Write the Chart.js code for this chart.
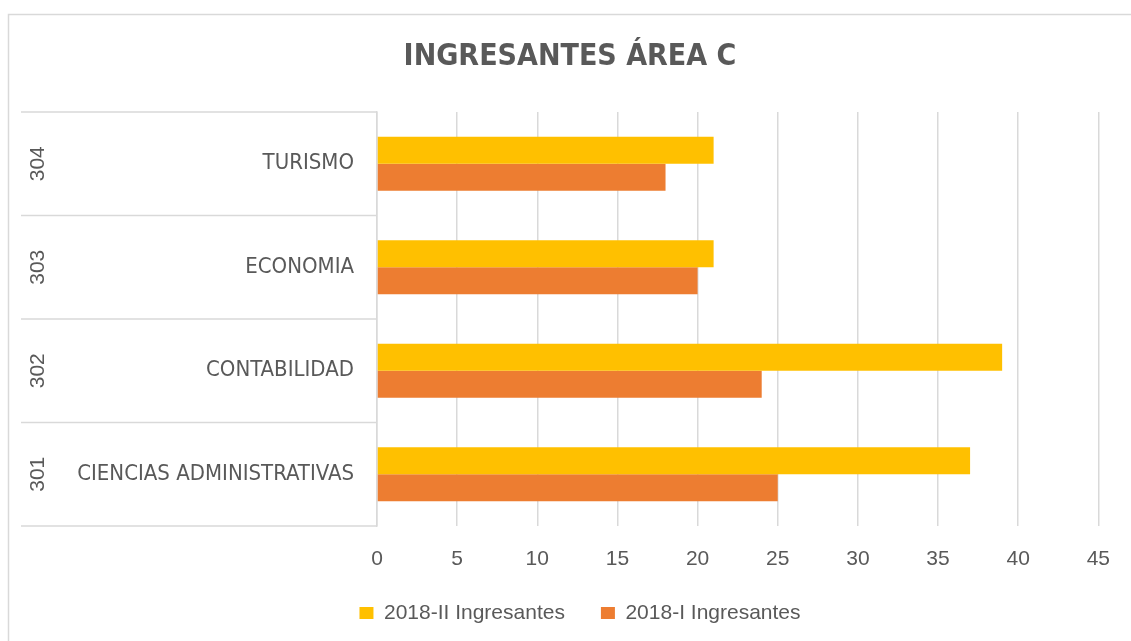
<!DOCTYPE html>
<html>
<head>
<meta charset="utf-8">
<script src="https://cdn.jsdelivr.net/npm/chart.js@4"></script>
<style>
  html, body { margin: 0; padding: 0; background: #ffffff; }
  #wrap { width: 1131px; height: 641px; position: relative; }
</style>
</head>
<body>
<div id="wrap"><canvas id="ingresantesChart"></canvas></div>
<script>
// data, top to bottom as shown in the chart
const codes = ['304', '303', '302', '301'];
const careers = ['TURISMO', 'ECONOMIA', 'CONTABILIDAD', 'CIENCIAS ADMINISTRATIVAS'];
const ingresantes2018II = [21, 21, 39, 37];
const ingresantes2018I = [18, 20, 24, 25];
const xMin = 0;
const xMax = 45;
const xStep = 5;

const narrowFont = "'Liberation Sans Narrow', 'DejaVu Sans Condensed', 'Liberation Sans', sans-serif";
const plainFont = "'Liberation Sans', Arial, sans-serif";
const textGrey = '#595959';
const lineGrey = '#d9d9d9';

// frame, category separators and the outer (code) level of the axis
const frameAndCodes = {
    id: 'frameAndCodes',
    afterLayout(chart) {
        // nudge the legend a bit right, like the original
        chart.legend.left += 10;
        chart.legend.right += 10;
    },
    beforeDraw(chart) {
        const ctx = chart.ctx;
        const area = chart.chartArea;
        const yScale = chart.scales.y;
        ctx.save();
        ctx.strokeStyle = lineGrey;
        ctx.lineWidth = 1.5;

        ctx.beginPath();
        ctx.moveTo(8.5, chart.height + 2);
        ctx.lineTo(8.5, 14.5);
        ctx.lineTo(chart.width + 2, 14.5);
        ctx.stroke();

        for (let i = 0; i <= codes.length; i++) {
            const y = yScale.getPixelForValue(i - 0.5);
            ctx.beginPath();
            ctx.moveTo(21, y);
            ctx.lineTo(area.left, y);
            ctx.stroke();
        }

        ctx.fillStyle = textGrey;
        ctx.font = '21px ' + plainFont;
        ctx.textAlign = 'center';
        ctx.textBaseline = 'middle';
        codes.forEach((code, i) => {
            const y = yScale.getPixelForValue(i);
            ctx.save();
            ctx.translate(38, y);
            ctx.rotate(-Math.PI / 2);
            ctx.fillText(code, 0, 0);
            ctx.restore();
        });
        ctx.restore();
    }
};

new Chart(document.getElementById('ingresantesChart'), {
    type: 'bar',
    data: {
        labels: careers,
        datasets: [{
            label: '2018-II Ingresantes',
            data: ingresantes2018II,
            backgroundColor: '#FFC000',
            borderWidth: 0
        }, {
            label: '2018-I Ingresantes',
            data: ingresantes2018I,
            backgroundColor: '#ED7D31',
            borderWidth: 0
        }]
    },
    options: {
        indexAxis: 'y',
        responsive: true,
        maintainAspectRatio: false,
        animation: false,
        categoryPercentage: 0.52,
        barPercentage: 1.0,
        layout: {
            padding: { left: 40, right: 31, top: 0, bottom: 7.5 }
        },
        scales: {
            x: {
                min: xMin,
                max: xMax,
                ticks: {
                    stepSize: xStep,
                    color: textGrey,
                    font: { family: plainFont, size: 21 },
                    padding: 21
                },
                grid: {
                    color: lineGrey,
                    lineWidth: 1.5,
                    drawTicks: false
                },
                border: { display: false },
                afterFit: (scale) => { scale.height = 40.5; }
            },
            y: {
                ticks: {
                    color: textGrey,
                    font: { family: narrowFont, size: 22 },
                    padding: 23
                },
                grid: { display: false, drawTicks: false },
                border: { display: true, color: lineGrey, width: 1.5 },
                afterFit: (scale) => { scale.width = 337; }
            }
        },
        plugins: {
            title: {
                display: true,
                text: 'INGRESANTES ÁREA C',
                color: textGrey,
                font: { family: narrowFont, size: 30, weight: 'bold' },
                padding: { top: 39.5, bottom: 36.5 }
            },
            legend: {
                position: 'bottom',
                labels: {
                    color: textGrey,
                    font: { family: plainFont, size: 21 },
                    boxWidth: 14,
                    boxHeight: 12,
                    padding: 36
                }
            },
            tooltip: { enabled: false }
        }
    },
    plugins: [frameAndCodes]
});
</script>
</body>
</html>
